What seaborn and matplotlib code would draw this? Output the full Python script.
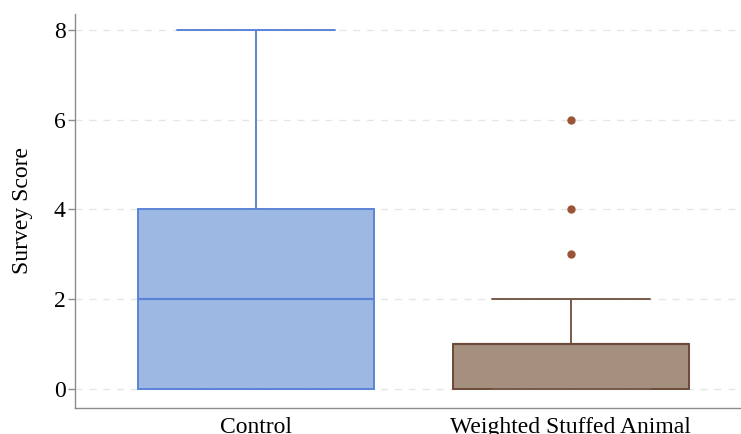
import matplotlib
matplotlib.use("Agg")
import matplotlib.pyplot as plt
import seaborn as sns
import pandas as pd

# Data (raw scores chosen to reproduce the plotted box statistics)
control_scores = [0, 0, 0, 0, 1, 2, 3, 4, 4, 6, 8]
weighted_scores = [0, 0, 0, 0, 0, 0, 0, 1, 1, 1, 1, 1, 1, 1, 1, 1, 1, 2, 3, 4, 6]
categories = ["Control", "Weighted Stuffed Animal"]
y_ticks = [0, 2, 4, 6, 8]

df = pd.DataFrame({
    "group": [categories[0]] * len(control_scores) + [categories[1]] * len(weighted_scores),
    "score": control_scores + weighted_scores,
})

sns.set_style("white")
plt.rcParams["font.family"] = ["Liberation Serif", "DejaVu Serif"]
plt.rcParams["text.color"] = "black"
plt.rcParams["axes.labelcolor"] = "black"
plt.rcParams["xtick.color"] = "black"
plt.rcParams["ytick.color"] = "black"

fig = plt.figure(figsize=(7.41, 4.34), dpi=100)
ax = fig.add_axes([0.101, 0.06, 0.899, 0.908])

fills = ["#9db9e3", "#a59080"]
edges = ["#5b84d6", "#6b4a39"]
whisk = ["#5b84d6", "#7a5a4a"]
flier_c = ["#5b84d6", "#9b5536"]

sns.boxplot(data=df, x="group", y="score", order=categories, width=0.75,
            ax=ax, linewidth=1.4, zorder=3)

for i, patch in enumerate(ax.patches):
    patch.set_facecolor(fills[i])
    patch.set_edgecolor(edges[i])
    patch.set_linewidth(1.4)

lines = ax.lines
per = len(lines) // 2
for i in range(2):
    for ln in lines[i * per:(i + 1) * per]:
        ln.set_color(whisk[i])
        ln.set_linewidth(1.4)
        xd = ln.get_xdata()
        yd = ln.get_ydata()
        if len(xd) == 2 and xd[0] != xd[1] and yd[0] == yd[1]:
            c = (xd[0] + xd[1]) / 2
            w = xd[1] - xd[0]
            if w < 0.74:
                ln.set_xdata([c - 0.25, c + 0.25])
            else:
                ln.set_color(edges[i])
                ln.set_linewidth(1.6)
        if ln.get_marker() not in (None, "None", "", " "):
            ln.set_marker("o")
            ln.set_markerfacecolor(flier_c[i])
            ln.set_markeredgecolor(flier_c[i])
            ln.set_markersize(5)
            ln.set_linestyle("none")

ax.set_xlim(-0.575, 1.54)
ax.set_ylim(-0.423, 8.357)
ax.set_yticks(y_ticks)
ax.set_yticklabels([str(v) for v in y_ticks], fontsize=17)
ax.set_xticks([0, 1])
ax.set_xticklabels(categories, fontsize=17)
ax.set_xlabel("")
ax.set_ylabel("Survey Score", fontsize=17, labelpad=15)

ax.yaxis.grid(True, linestyle=(0, (5, 5)), color="#e6e6e6", linewidth=1.0, zorder=0)
ax.set_axisbelow(True)
for s in ["top", "right"]:
    ax.spines[s].set_visible(False)
for s in ["left", "bottom"]:
    ax.spines[s].set_color("#8c8c8c")
    ax.spines[s].set_linewidth(1.0)
ax.tick_params(axis="y", left=True, length=5, color="#8c8c8c", labelcolor="black", width=1, pad=1.5)
ax.tick_params(axis="x", bottom=False, labelcolor="black", pad=3)

fig.savefig("out.png", dpi=100)
